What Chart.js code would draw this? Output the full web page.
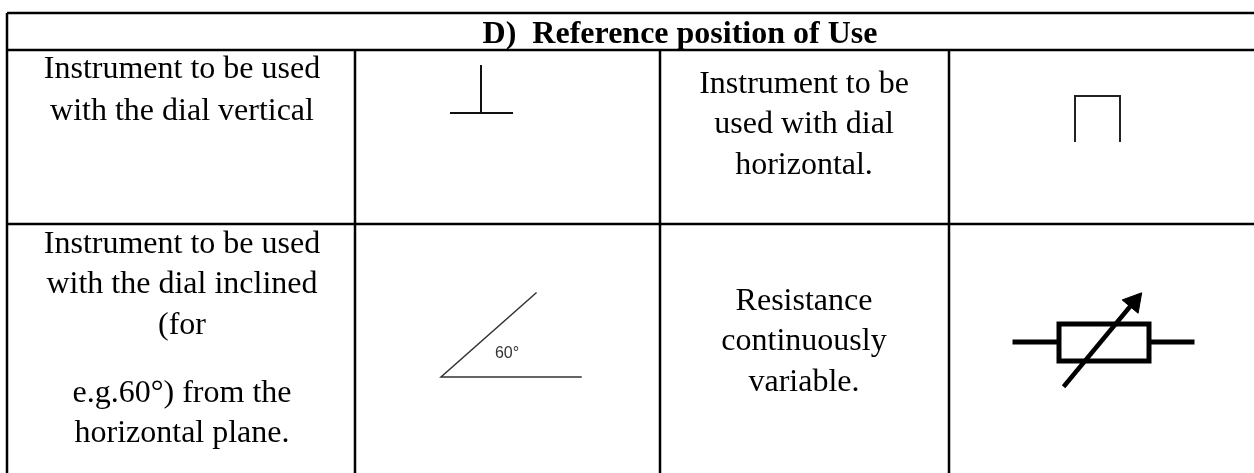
<!DOCTYPE html>
<html>
<head>
<meta charset="utf-8">
<style>
  html, body { margin: 0; padding: 0; background: #fff; }
  #wrap { width: 1254px; height: 473px; }
</style>
<script src="https://cdn.jsdelivr.net/npm/chart.js@4"></script>
</head>
<body>
<div id="wrap"><canvas id="tableChart"></canvas></div>
<script>
// table rules
const columnEdges = [7, 355, 660, 949, 1254];
const rowEdges = [13, 50, 224, 473];

// symbols
const teeStem = [{ x: 481, y: 66 }, { x: 481, y: 113 }];
const teeBase = [{ x: 451, y: 113 }, { x: 512, y: 113 }];
const gateShape = [{ x: 1075, y: 141 }, { x: 1075, y: 96 }, { x: 1120, y: 96 }, { x: 1120, y: 141 }];
const angleShape = [{ x: 536, y: 293 }, { x: 441, y: 377 }, { x: 581, y: 377 }];
const leadLeft = [{ x: 1015, y: 342 }, { x: 1057, y: 342 }];
const leadRight = [{ x: 1151, y: 342 }, { x: 1192, y: 342 }];
const resistorBox = [{ x: 1059, y: 324 }, { x: 1149, y: 324 }, { x: 1149, y: 361 }, { x: 1059, y: 361 }, { x: 1059, y: 324 }];
const arrowShaft = [{ x: 1065, y: 385 }, { x: 1138, y: 297 }];
const arrowHead = [{ x: 1134, y: 302 }];

// text: [line, cell centre x, baseline y]
const headerText = "D)  Reference position of Use";
const cellLines = [
  ["Instrument to be used", 182, 78],
  ["with the dial vertical", 182, 120],
  ["Instrument to be", 804, 93],
  ["used with dial", 804, 133],
  ["horizontal.", 804, 174],
  ["Instrument to be used", 182, 253],
  ["with the dial inclined", 182, 293],
  ["(for", 182, 334],
  ["e.g.60°) from the", 182, 402],
  ["horizontal plane.", 182, 442],
  ["Resistance", 804, 310],
  ["continuously", 804, 350],
  ["variable.", 804, 391]
];
const angleLabel = ["60°", 507, 358];

function rule(x1, y1, x2, y2) {
  return {
    data: [{ x: x1, y: y1 }, { x: x2, y: y2 }],
    borderColor: "#000",
    borderWidth: 2.5,
    pointRadius: 0,
    showLine: true
  };
}

function symbol(points, width, colour) {
  return {
    data: points,
    borderColor: colour || "#111",
    borderWidth: width,
    borderCapStyle: "square",
    pointRadius: 0,
    showLine: true
  };
}

const tableRules = [];
rowEdges.slice(0, 3).forEach((y) => tableRules.push(rule(columnEdges[0], y, columnEdges[4], y)));
tableRules.push(rule(columnEdges[0], rowEdges[0], columnEdges[0], rowEdges[3]));
columnEdges.slice(1, 4).forEach((x) => tableRules.push(rule(x, rowEdges[1], x, rowEdges[3])));

// Writes the table text through the same scales as the lines
const tableText = {
  id: "tableText",
  afterDatasetsDraw(chart) {
    const { ctx, scales } = chart;
    ctx.save();
    ctx.fillStyle = "#000";
    ctx.textAlign = "center";
    ctx.textBaseline = "alphabetic";
    ctx.font = 'bold 32px "Liberation Serif"';
    ctx.fillText(headerText, scales.x.getPixelForValue(680), scales.y.getPixelForValue(43));
    ctx.font = '32px "Liberation Serif"';
    cellLines.forEach(([line, x, y]) => {
      ctx.fillText(line, scales.x.getPixelForValue(x), scales.y.getPixelForValue(y));
    });
    ctx.font = '16px "Liberation Sans"';
    ctx.fillStyle = "#333";
    ctx.fillText(angleLabel[0], scales.x.getPixelForValue(angleLabel[1]), scales.y.getPixelForValue(angleLabel[2]));
    ctx.restore();
  }
};

new Chart(document.getElementById("tableChart"), {
  type: "scatter",
  data: {
    datasets: [
      ...tableRules,
      symbol(teeStem, 2),
      symbol(teeBase, 2),
      symbol(gateShape, 2, "#222"),
      symbol(angleShape, 1.5, "#333"),
      symbol(leadLeft, 5, "#000"),
      symbol(leadRight, 5, "#000"),
      symbol(resistorBox, 5, "#000"),
      symbol(arrowShaft, 4.5, "#000"),
      {
        data: arrowHead,
        pointStyle: "triangle",
        pointRotation: 40,
        pointRadius: 12,
        backgroundColor: "#000",
        borderColor: "#000"
      }
    ]
  },
  options: {
    responsive: true,
    maintainAspectRatio: false,
    animation: false,
    layout: { padding: 0, autoPadding: false },
    plugins: { legend: { display: false }, title: { display: false }, tooltip: { enabled: false } },
    scales: {
      x: { type: "linear", min: 0, max: 1254, display: false },
      y: { type: "linear", min: 0, max: 473, reverse: true, display: false }
    }
  },
  plugins: [tableText]
});
</script>
</body>
</html>
